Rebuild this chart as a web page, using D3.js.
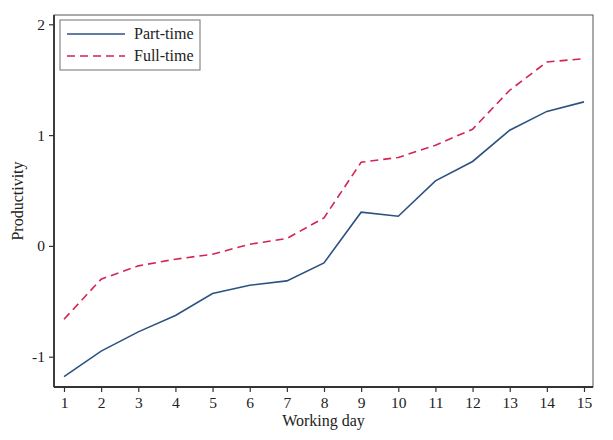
<!DOCTYPE html>
<html><head><meta charset="utf-8">
<script src="https://cdn.jsdelivr.net/npm/d3@7"></script>
<style>body{margin:0;background:#fff}svg{display:block}text{font-family:"Liberation Serif","Times New Roman",serif;fill:#222}</style>
</head><body><svg id="c" width="613" height="440"></svg>
<script>
const days = [1,2,3,4,5,6,7,8,9,10,11,12,13,14,15];
const partTime = [-1.18,-0.95,-0.776,-0.628,-0.43,-0.355,-0.316,-0.153,0.304,0.268,0.587,0.762,1.044,1.214,1.30];
const fullTime = [-0.662,-0.30,-0.18,-0.12,-0.075,0.015,0.067,0.253,0.755,0.798,0.909,1.053,1.405,1.66,1.69];
const yTicks = [-1,0,1,2];
const seriesNames = ["Part-time","Full-time"];

const svg = d3.select("#c");
const L=54,R=593,T=15,B=387;
const x = d3.scaleLinear().domain([1,15]).range([64,584]);
const y = d3.scaleLinear().domain([-1,2]).range([356.7,24.3]);
const fmt = d => String(d);

svg.append("rect").attr("x",L).attr("y",T).attr("width",R-L).attr("height",B-T)
  .attr("fill","none").attr("stroke","#555").attr("stroke-width",1);

const xa = svg.append("g").attr("transform",`translate(0,${B})`)
  .call(d3.axisBottom(x).tickValues(days).tickFormat(fmt).tickSize(5).tickSizeOuter(0).tickPadding(5));
const ya = svg.append("g").attr("transform",`translate(${L},0)`)
  .call(d3.axisLeft(y).tickValues(yTicks).tickFormat(fmt).tickSize(5).tickSizeOuter(0).tickPadding(4));
[xa,ya].forEach(g=>{
  g.select(".domain").remove();
  g.selectAll("line").attr("stroke","#333").attr("stroke-width",1.2);
  g.selectAll("text").attr("font-size",15.5).attr("fill","#222").style("font-family",'"Liberation Serif",serif');
});
svg.append("line").attr("x1",L).attr("x2",L).attr("y1",T).attr("y2",B).attr("stroke","#333").attr("stroke-width",1.8);
svg.append("line").attr("x1",L).attr("x2",R).attr("y1",B).attr("y2",B).attr("stroke","#333").attr("stroke-width",1.8);

const line = d3.line().x((d,i)=>x(days[i])).y(d=>y(d));
const colors = ["#2c5380","#d42452"];
const dashes = [null,"8,5"];
[partTime,fullTime].forEach((s,k)=>{
  svg.append("path").datum(s).attr("d",line).attr("fill","none")
    .attr("stroke",colors[k]).attr("stroke-width",1.6).attr("stroke-dasharray",dashes[k]);
});

svg.append("text").attr("x",(L+R)/2+0).attr("y",426).attr("text-anchor","middle").attr("font-size",16).text("Working day");
svg.append("text").attr("transform","translate(23,201) rotate(-90)").attr("text-anchor","middle").attr("font-size",16).text("Productivity");

const lg = svg.append("g");
lg.append("rect").attr("x",60).attr("y",20).attr("width",140).attr("height",50).attr("fill","#fff").attr("stroke","#888").attr("stroke-width",1.2);
seriesNames.forEach((n,k)=>{
  const yy = 34 + k*22;
  lg.append("line").attr("x1",67).attr("x2",125).attr("y1",yy).attr("y2",yy)
    .attr("stroke",colors[k]).attr("stroke-width",1.6).attr("stroke-dasharray",dashes[k]);
  lg.append("text").attr("x",134).attr("y",yy+5).attr("font-size",16).text(n);
});
</script></body></html>
